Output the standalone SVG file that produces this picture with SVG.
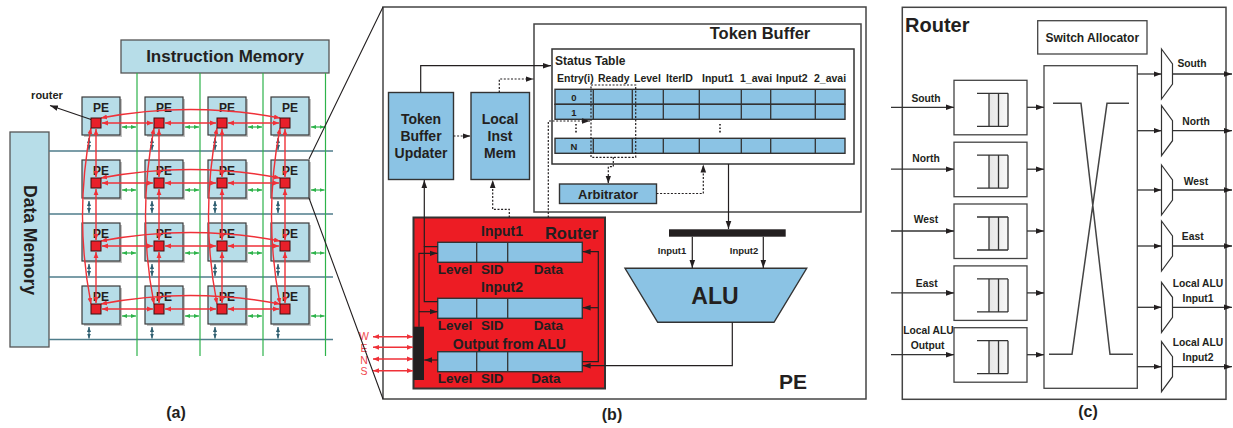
<svg xmlns="http://www.w3.org/2000/svg" width="1233" height="428" viewBox="0 0 1233 428">
<style>
.t{font-family:"Liberation Sans",Arial,sans-serif;font-weight:bold;fill:#231f20}
.m{text-anchor:middle}
.pe{fill:#b7dde8;stroke:#3a3a3a;stroke-width:1.2}
.sh{fill:#7a7a7a;opacity:.45}
.rt{fill:#e8202a;stroke:#3a1010;stroke-width:1}
.red{stroke:#ef3138;stroke-width:1.4;fill:none}
.grn{stroke:#2db34a;stroke-width:1.2;fill:none}
.teal{stroke:#2e5e70;stroke-width:1.2;fill:none}
.bus{stroke:#4f7d8b;stroke-width:1.6}
.gline{stroke:#2db34a;stroke-width:1.2}
.blk{stroke:#231f20;stroke-width:1.2;fill:none}
.dot{stroke:#231f20;stroke-width:1.2;fill:none;stroke-dasharray:2 1.6}
.bl{fill:#8bc3e4;stroke:#333;stroke-width:1.4}
.frame{fill:#fff;stroke:#444;stroke-width:1.5}
.cl{stroke:#333;stroke-width:1.3;fill:none}
.q{fill:url(#qg)}
</style>
<defs>
<marker id="ah" viewBox="0 0 10 10" refX="10" refY="5" markerWidth="8" markerHeight="8" markerUnits="userSpaceOnUse" orient="auto-start-reverse"><path d="M0,1.5 L10,5 L0,8.5 z" fill="#231f20"/></marker>
<marker id="rh" viewBox="0 0 10 10" refX="10" refY="5" markerWidth="6" markerHeight="6" markerUnits="userSpaceOnUse" orient="auto-start-reverse"><path d="M0,1 L10,5 L0,9 z" fill="#ef3138"/></marker>
<marker id="gh" viewBox="0 0 10 10" refX="10" refY="5" markerWidth="5" markerHeight="5" markerUnits="userSpaceOnUse" orient="auto-start-reverse"><path d="M0,1 L10,5 L0,9 z" fill="#2db34a"/></marker>
<marker id="th" viewBox="0 0 10 10" refX="10" refY="5" markerWidth="5" markerHeight="5" markerUnits="userSpaceOnUse" orient="auto-start-reverse"><path d="M0,1 L10,5 L0,9 z" fill="#2e5e70"/></marker>
<linearGradient id="qg" x1="0" y1="0" x2="1" y2="0"><stop offset="0" stop-color="#e6e6e6"/><stop offset="1" stop-color="#f8f8f8"/></linearGradient>
</defs>
<rect width="1233" height="428" fill="#fff"/>

<!-- ================= Panel (a) ================= -->
<g id="instruction-memory">
<rect x="121" y="40" width="208" height="33" fill="#b7dde8" stroke="#555" stroke-width="1.3"/>
<text class="t m" x="225" y="62" font-size="17">Instruction Memory</text>
</g>
<g id="data-memory">
<rect x="10" y="132" width="39" height="215" fill="#b7dde8" stroke="#555" stroke-width="1.3"/>
<text class="t m" transform="translate(24,240) rotate(90)" font-size="17.5">Data Memory</text>
</g>
<g id="buses">
<line class="bus" x1="49" y1="151" x2="333" y2="151"/>
<line class="bus" x1="49" y1="214" x2="333" y2="214"/>
<line class="bus" x1="49" y1="277" x2="333" y2="277"/>
<line class="bus" x1="49" y1="339.5" x2="333" y2="339.5"/>
<line class="gline" x1="137" y1="73" x2="137" y2="356"/>
<line class="gline" x1="200" y1="73" x2="200" y2="356"/>
<line class="gline" x1="263" y1="73" x2="263" y2="356"/>
<line class="gline" x1="325.5" y1="73" x2="325.5" y2="356"/>
</g>
<g id="pe-0-0"><rect class="sh" x="84" y="99" width="38" height="38"/><rect class="pe" x="82" y="97" width="38" height="38"/><text class="t m" x="101" y="112" font-size="12">PE</text></g>
<g id="pe-0-1"><rect class="sh" x="147" y="99" width="38" height="38"/><rect class="pe" x="145" y="97" width="38" height="38"/><text class="t m" x="164" y="112" font-size="12">PE</text></g>
<g id="pe-0-2"><rect class="sh" x="210" y="99" width="38" height="38"/><rect class="pe" x="208" y="97" width="38" height="38"/><text class="t m" x="227" y="112" font-size="12">PE</text></g>
<g id="pe-0-3"><rect class="sh" x="273" y="99" width="38" height="38"/><rect class="pe" x="271" y="97" width="38" height="38"/><text class="t m" x="290" y="112" font-size="12">PE</text></g>
<g id="pe-1-0"><rect class="sh" x="84" y="162" width="38" height="38"/><rect class="pe" x="82" y="160" width="38" height="38"/><text class="t m" x="101" y="175" font-size="12">PE</text></g>
<g id="pe-1-1"><rect class="sh" x="147" y="162" width="38" height="38"/><rect class="pe" x="145" y="160" width="38" height="38"/><text class="t m" x="164" y="175" font-size="12">PE</text></g>
<g id="pe-1-2"><rect class="sh" x="210" y="162" width="38" height="38"/><rect class="pe" x="208" y="160" width="38" height="38"/><text class="t m" x="227" y="175" font-size="12">PE</text></g>
<g id="pe-1-3"><rect class="sh" x="273" y="162" width="38" height="38"/><rect class="pe" x="271" y="160" width="38" height="38"/><text class="t m" x="290" y="175" font-size="12">PE</text></g>
<g id="pe-2-0"><rect class="sh" x="84" y="225" width="38" height="38"/><rect class="pe" x="82" y="223" width="38" height="38"/><text class="t m" x="101" y="238" font-size="12">PE</text></g>
<g id="pe-2-1"><rect class="sh" x="147" y="225" width="38" height="38"/><rect class="pe" x="145" y="223" width="38" height="38"/><text class="t m" x="164" y="238" font-size="12">PE</text></g>
<g id="pe-2-2"><rect class="sh" x="210" y="225" width="38" height="38"/><rect class="pe" x="208" y="223" width="38" height="38"/><text class="t m" x="227" y="238" font-size="12">PE</text></g>
<g id="pe-2-3"><rect class="sh" x="273" y="225" width="38" height="38"/><rect class="pe" x="271" y="223" width="38" height="38"/><text class="t m" x="290" y="238" font-size="12">PE</text></g>
<g id="pe-3-0"><rect class="sh" x="84" y="288" width="38" height="38"/><rect class="pe" x="82" y="286" width="38" height="38"/><text class="t m" x="101" y="301" font-size="12">PE</text></g>
<g id="pe-3-1"><rect class="sh" x="147" y="288" width="38" height="38"/><rect class="pe" x="145" y="286" width="38" height="38"/><text class="t m" x="164" y="301" font-size="12">PE</text></g>
<g id="pe-3-2"><rect class="sh" x="210" y="288" width="38" height="38"/><rect class="pe" x="208" y="286" width="38" height="38"/><text class="t m" x="227" y="301" font-size="12">PE</text></g>
<g id="pe-3-3"><rect class="sh" x="273" y="288" width="38" height="38"/><rect class="pe" x="271" y="286" width="38" height="38"/><text class="t m" x="290" y="301" font-size="12">PE</text></g>
<g id="router-label"><text class="t m" x="47" y="99" font-size="11">router</text></g>

<!-- ================= Panel (b) nodes ================= -->
<g id="pe-detail"><rect class="frame" x="383" y="7" width="483" height="392"/><text class="t m" x="793" y="388.5" font-size="21">PE</text></g>
<g id="token-buffer"><rect class="frame" x="534" y="24" width="327" height="188"/><text class="t m" x="760" y="39" font-size="16.5">Token Buffer</text></g>
<g id="status-table">
<rect x="552" y="49" width="302" height="115" fill="#fff" stroke="#333" stroke-width="1.5"/>
<text class="t" x="555" y="64.5" font-size="12">Status Table</text>
<g font-size="10.5">
<text class="t" x="557" y="82">Entry(i)</text><text class="t" x="598" y="82">Ready</text><text class="t" x="634" y="82">Level</text><text class="t" x="666" y="82">IterID</text><text class="t" x="702" y="82">Input1</text><text class="t" x="740" y="82">1_avai</text><text class="t" x="776" y="82">Input2</text><text class="t" x="814" y="82">2_avai</text>
</g>
<rect class="bl" x="555" y="89.3" width="290" height="15"/>
<rect class="bl" x="555" y="104.3" width="290" height="15"/>
<rect class="bl" x="555" y="138.3" width="290" height="15"/>
<path class="cl" d="M593.3,89.3V119.3M632.3,89.3V119.3M663.3,89.3V119.3M699.3,89.3V119.3M741.3,89.3V119.3M770.7,89.3V119.3M815.3,89.3V119.3M593.3,138.3V153.3M632.3,138.3V153.3M663.3,138.3V153.3M699.3,138.3V153.3M741.3,138.3V153.3M770.7,138.3V153.3M815.3,138.3V153.3"/>
<text class="t m" x="574" y="100.5" font-size="9.5">0</text>
<text class="t m" x="574" y="115.5" font-size="9.5">1</text>
<text class="t m" x="574" y="149.5" font-size="9.5">N</text>
<path d="M576,124V134M720,124V134" stroke="#231f20" stroke-width="1.6" stroke-dasharray="1.6 1.8"/>
<rect class="dot" x="591" y="85" width="44.7" height="72.3"/>
</g>
<g id="arbitrator"><rect class="bl" x="559.5" y="184" width="97" height="19.5"/><text class="t m" x="608" y="198.5" font-size="13">Arbitrator</text></g>
<g id="token-buffer-updater"><rect class="bl" x="388.5" y="92.5" width="65" height="87"/>
<text class="t m" x="421" y="124" font-size="14">Token</text><text class="t m" x="421" y="141" font-size="14">Buffer</text><text class="t m" x="421" y="158" font-size="14">Updater</text></g>
<g id="local-inst-mem"><rect class="bl" x="471" y="92.5" width="58.5" height="87"/>
<text class="t m" x="500" y="124" font-size="14">Local</text><text class="t m" x="500" y="141" font-size="14">Inst</text><text class="t m" x="500" y="158" font-size="14">Mem</text></g>
<g id="router-b">
<rect x="413.5" y="217.5" width="191.5" height="171" fill="#ed1c24" stroke="#333" stroke-width="2"/>
<text class="t m" x="571.5" y="238.5" font-size="16.5">Router</text>
<text class="t m" x="502" y="236" font-size="14">Input1</text>
<rect class="bl" x="437.7" y="242.3" width="144.6" height="20"/>
<path class="cl" d="M476.7,242.3V262.3M507.7,242.3V262.3"/>
<text class="t m" x="455" y="274" font-size="13.5">Level</text><text class="t m" x="492.3" y="274" font-size="13.5">SID</text><text class="t m" x="548.3" y="274" font-size="13.5">Data</text>
<text class="t m" x="502" y="292" font-size="14">Input2</text>
<rect class="bl" x="437.7" y="298.3" width="144.6" height="20"/>
<path class="cl" d="M476.7,298.3V318.3M507.7,298.3V318.3"/>
<text class="t m" x="455" y="330" font-size="13.5">Level</text><text class="t m" x="492.3" y="330" font-size="13.5">SID</text><text class="t m" x="548.3" y="330" font-size="13.5">Data</text>
<text class="t m" x="509.3" y="349" font-size="14">Output from ALU</text>
<rect class="bl" x="437.7" y="351.7" width="144.6" height="20"/>
<path class="cl" d="M476.7,351.7V371.7M507.7,351.7V371.7"/>
<text class="t m" x="455" y="383" font-size="13.5">Level</text><text class="t m" x="492.3" y="383" font-size="13.5">SID</text><text class="t m" x="546" y="383" font-size="13.5">Data</text>
<rect x="413.5" y="326.7" width="10.5" height="53.3" fill="#231f20"/>
</g>
<g id="wens-labels" font-family="Liberation Sans,Arial,sans-serif" font-size="10.5" fill="#f0484e" text-anchor="middle">
<text x="364" y="340">W</text><text x="364" y="352">E</text><text x="364" y="363.5">N</text><text x="364" y="375">S</text>
</g>
<g id="alu">
<rect x="669" y="229.3" width="116.7" height="7.4" fill="#231f20"/>
<polygon class="bl" points="625,268.3 806.7,268.3 774,322.3 657.7,322.3"/>
<text class="t m" x="715" y="303.5" font-size="23">ALU</text>
<text class="t m" x="672" y="254" font-size="9.5">Input1</text>
<text class="t m" x="744" y="254" font-size="9.5">Input2</text>
</g>

<!-- ================= Panel (c) nodes ================= -->
<g id="router-c"><rect class="frame" x="902.3" y="7.3" width="323.7" height="392"/><text class="t" x="905" y="31.7" font-size="20">Router</text></g>
<g id="switch-allocator"><rect x="1037.7" y="20.7" width="109.3" height="33.3" fill="#fff" stroke="#444" stroke-width="1.3"/><text class="t m" x="1092.3" y="41.5" font-size="12">Switch Allocator</text></g>
<g id="crossbar"><rect x="1044" y="65.7" width="93.3" height="322.6" fill="#fff" stroke="#444" stroke-width="1.3"/>
<path d="M1053,103.3H1081L1110,354.3H1133M1129,103.3H1107L1072,354.3H1049" stroke="#444" stroke-width="1.5" fill="none"/></g>
<g id="buf-south"><rect x="954" y="80.3" width="73" height="54.5" fill="#fff" stroke="#444" stroke-width="1.3"/><rect class="q" x="989" y="93.3" width="19" height="33"/><path class="cl" d="M977,93.3H1008M977,126.3H1008M989,93.3V126.3M998.5,93.3V126.3M1008,93.3V126.3"/></g>
<g id="buf-north"><rect x="954" y="142.2" width="73" height="54.5" fill="#fff" stroke="#444" stroke-width="1.3"/><rect class="q" x="989" y="155.2" width="19" height="33"/><path class="cl" d="M977,155.2H1008M977,188.2H1008M989,155.2V188.2M998.5,155.2V188.2M1008,155.2V188.2"/></g>
<g id="buf-west"><rect x="954" y="204" width="73" height="54.5" fill="#fff" stroke="#444" stroke-width="1.3"/><rect class="q" x="989" y="217" width="19" height="33"/><path class="cl" d="M977,217H1008M977,250H1008M989,217V250M998.5,217V250M1008,217V250"/></g>
<g id="buf-east"><rect x="954" y="265.9" width="73" height="54.5" fill="#fff" stroke="#444" stroke-width="1.3"/><rect class="q" x="989" y="278.9" width="19" height="33"/><path class="cl" d="M977,278.9H1008M977,311.9H1008M989,278.9V311.9M998.5,278.9V311.9M1008,278.9V311.9"/></g>
<g id="buf-local"><rect x="954" y="327.7" width="73" height="54.5" fill="#fff" stroke="#444" stroke-width="1.3"/><rect class="q" x="989" y="340.7" width="19" height="33"/><path class="cl" d="M977,340.7H1008M977,373.7H1008M989,340.7V373.7M998.5,340.7V373.7M1008,340.7V373.7"/></g>
<g id="mux-south"><polygon points="1161.5,49 1172.5,64 1172.5,84 1161.5,99" fill="#fff" stroke="#333" stroke-width="1.2"/></g>
<g id="mux-north"><polygon points="1161.5,105.7 1172.5,120.7 1172.5,140.7 1161.5,155.7" fill="#fff" stroke="#333" stroke-width="1.2"/></g>
<g id="mux-west"><polygon points="1161.5,165 1172.5,180 1172.5,200 1161.5,215" fill="#fff" stroke="#333" stroke-width="1.2"/></g>
<g id="mux-east"><polygon points="1161.5,221 1172.5,236 1172.5,256 1161.5,271" fill="#fff" stroke="#333" stroke-width="1.2"/></g>
<g id="mux-in1"><polygon points="1161.5,282.3 1172.5,297.3 1172.5,317.3 1161.5,332.3" fill="#fff" stroke="#333" stroke-width="1.2"/></g>
<g id="mux-in2"><polygon points="1161.5,341.7 1172.5,356.7 1172.5,376.7 1161.5,391.7" fill="#fff" stroke="#333" stroke-width="1.2"/></g>
<g id="labels-c" font-size="10.3">
<text class="t m" x="926" y="101.7">South</text>
<text class="t m" x="926" y="161.7">North</text>
<text class="t m" x="926" y="223.3">West</text>
<text class="t m" x="926.7" y="286.7">East</text>
<text class="t m" x="928.5" y="334.3">Local ALU</text>
<text class="t m" x="927.7" y="349.3">Output</text>
<text class="t m" x="1192" y="66.7">South</text>
<text class="t m" x="1196" y="125">North</text>
<text class="t m" x="1196" y="185">West</text>
<text class="t m" x="1192.7" y="240">East</text>
<text class="t m" x="1198" y="286.7">Local ALU</text>
<text class="t m" x="1198" y="301.7">Input1</text>
<text class="t m" x="1198" y="346">Local ALU</text>
<text class="t m" x="1198" y="360.7">Input2</text>
</g>
<g id="captions" font-size="16">
<text class="t m" x="176" y="418">(a)</text>
<text class="t m" x="612" y="420">(b)</text>
<text class="t m" x="1088" y="417">(c)</text>
</g>

<!-- ================= Connectors ================= -->
<g id="connectors">
<g class="grn" marker-start="url(#gh)" marker-end="url(#gh)">
<line x1="122" y1="127" x2="136" y2="127"/><line x1="185" y1="127" x2="199" y2="127"/><line x1="248" y1="127" x2="262" y2="127"/><line x1="311" y1="127" x2="324.5" y2="127"/>
<line x1="122" y1="190" x2="136" y2="190"/><line x1="185" y1="190" x2="199" y2="190"/><line x1="248" y1="190" x2="262" y2="190"/><line x1="311" y1="190" x2="324.5" y2="190"/>
<line x1="122" y1="253" x2="136" y2="253"/><line x1="185" y1="253" x2="199" y2="253"/><line x1="248" y1="253" x2="262" y2="253"/><line x1="311" y1="253" x2="324.5" y2="253"/>
<line x1="122" y1="316" x2="136" y2="316"/><line x1="185" y1="316" x2="199" y2="316"/><line x1="248" y1="316" x2="262" y2="316"/><line x1="311" y1="316" x2="324.5" y2="316"/>
</g>
<g class="teal" marker-start="url(#th)" marker-end="url(#th)">
<line x1="89" y1="138" x2="89" y2="150"/><line x1="152" y1="138" x2="152" y2="150"/><line x1="215" y1="138" x2="215" y2="150"/><line x1="278" y1="138" x2="278" y2="150"/>
<line x1="89" y1="201" x2="89" y2="213"/><line x1="152" y1="201" x2="152" y2="213"/><line x1="215" y1="201" x2="215" y2="213"/><line x1="278" y1="201" x2="278" y2="213"/>
<line x1="89" y1="264" x2="89" y2="276"/><line x1="152" y1="264" x2="152" y2="276"/><line x1="215" y1="264" x2="215" y2="276"/><line x1="278" y1="264" x2="278" y2="276"/>
<line x1="89" y1="327" x2="89" y2="338.5"/><line x1="152" y1="327" x2="152" y2="338.5"/><line x1="215" y1="327" x2="215" y2="338.5"/><line x1="278" y1="327" x2="278" y2="338.5"/>
</g>
<g class="red" marker-start="url(#rh)" marker-end="url(#rh)">
<line x1="102" y1="123" x2="153" y2="123"/><line x1="165" y1="123" x2="216" y2="123"/><line x1="228" y1="123" x2="279" y2="123"/>
<line x1="102" y1="183" x2="153" y2="183"/><line x1="165" y1="183" x2="216" y2="183"/><line x1="228" y1="183" x2="279" y2="183"/>
<line x1="102" y1="246" x2="153" y2="246"/><line x1="165" y1="246" x2="216" y2="246"/><line x1="228" y1="246" x2="279" y2="246"/>
<line x1="102" y1="309" x2="153" y2="309"/><line x1="165" y1="309" x2="216" y2="309"/><line x1="228" y1="309" x2="279" y2="309"/>
<line x1="96" y1="129" x2="96" y2="177"/><line x1="96" y1="189" x2="96" y2="240"/><line x1="96" y1="252" x2="96" y2="303"/>
<line x1="159" y1="129" x2="159" y2="177"/><line x1="159" y1="189" x2="159" y2="240"/><line x1="159" y1="252" x2="159" y2="303"/>
<line x1="222" y1="129" x2="222" y2="177"/><line x1="222" y1="189" x2="222" y2="240"/><line x1="222" y1="252" x2="222" y2="303"/>
<line x1="285" y1="129" x2="285" y2="177"/><line x1="285" y1="189" x2="285" y2="240"/><line x1="285" y1="252" x2="285" y2="303"/>
<path d="M101,118 Q190.5,101 280,118"/><path d="M101,178 Q190.5,161 280,178"/><path d="M101,241 Q190.5,224 280,241"/><path d="M101,304 Q190.5,287 280,304"/>
<path d="M91,128 Q74,216 91,304"/><path d="M154,128 Q137,216 154,304"/><path d="M217,128 Q200,216 217,304"/><path d="M280,128 Q263,216 280,304"/>
</g>
<line class="blk" x1="94" y1="120.5" x2="50" y2="105.5" marker-end="url(#ah)"/>
<path d="M309,159L383,7M309,198L383,399" stroke="#231f20" stroke-width="1.1" fill="none"/>
<path class="blk" d="M420.7,92.5V65.7H551" marker-end="url(#ah)"/>
<path class="dot" d="M453.5,136H470.5" marker-end="url(#ah)"/>
<path class="dot" d="M499.3,92.5V79H533.5" marker-end="url(#ah)"/>
<path class="dot" d="M613.3,157.3V166.7H608.3V183.5" marker-end="url(#ah)"/>
<path class="dot" d="M656.5,193.5H703.3V164.5" marker-end="url(#ah)"/>
<path class="dot" d="M548.3,217.5V121H590" marker-end="url(#ah)"/>
<path class="dot" d="M509.3,217.5V209.3H492.7V180" marker-end="url(#ah)"/>
<path class="blk" d="M437.7,246.7H424.3V301.7H437.7"/>
<path class="blk" d="M424.3,246.7V180" marker-end="url(#ah)"/>
<path class="blk" d="M419,326.7V253.3H437.5" marker-end="url(#ah)"/>
<path class="blk" d="M419,311.7H437.5" marker-end="url(#ah)"/>
<path class="blk" d="M437.7,360H424.2" marker-end="url(#ah)"/>
<path class="blk" d="M582.3,361.7H598.3V251.7H582.6" marker-end="url(#ah)"/>
<path class="blk" d="M598.3,307.7H582.6" marker-end="url(#ah)"/>
<path class="blk" d="M732.3,322.3V365.7H582.6" marker-end="url(#ah)"/>
<path class="blk" d="M728.5,164V229" marker-end="url(#ah)"/>
<path class="blk" d="M692.3,236.7V268" marker-end="url(#ah)"/>
<path class="blk" d="M763.3,236.7V268" marker-end="url(#ah)"/>
<g stroke="#ef3138" stroke-width="1.4" marker-start="url(#rh)" marker-end="url(#rh)">
<line x1="373" y1="336.7" x2="413" y2="336.7"/><line x1="373" y1="347.3" x2="413" y2="347.3"/><line x1="373" y1="359" x2="413" y2="359"/><line x1="373" y1="370.7" x2="413" y2="370.7"/>
</g>
<g class="cl" marker-end="url(#ah)">
<line x1="891" y1="107.3" x2="954" y2="107.3"/><line x1="891" y1="169.2" x2="954" y2="169.2"/><line x1="891" y1="231" x2="954" y2="231"/><line x1="891" y1="292.9" x2="954" y2="292.9"/><line x1="891" y1="354.7" x2="954" y2="354.7"/>
<line x1="1027" y1="107.3" x2="1044" y2="107.3"/><line x1="1027" y1="169.2" x2="1044" y2="169.2"/><line x1="1027" y1="231" x2="1044" y2="231"/><line x1="1027" y1="292.9" x2="1044" y2="292.9"/><line x1="1027" y1="354.7" x2="1044" y2="354.7"/>
<line x1="1137.3" y1="74" x2="1161.5" y2="74"/><line x1="1137.3" y1="130.7" x2="1161.5" y2="130.7"/><line x1="1137.3" y1="190" x2="1161.5" y2="190"/><line x1="1137.3" y1="246" x2="1161.5" y2="246"/><line x1="1137.3" y1="307.3" x2="1161.5" y2="307.3"/><line x1="1137.3" y1="366.7" x2="1161.5" y2="366.7"/>
<line x1="1172.5" y1="74" x2="1232" y2="74"/><line x1="1172.5" y1="130.7" x2="1232" y2="130.7"/><line x1="1172.5" y1="190" x2="1232" y2="190"/><line x1="1172.5" y1="246" x2="1232" y2="246"/><line x1="1172.5" y1="307.3" x2="1232" y2="307.3"/><line x1="1172.5" y1="366.7" x2="1232" y2="366.7"/>
</g>
</g>

<g id="routers-a">
<rect class="rt" x="91" y="118" width="10" height="10"/><rect class="rt" x="154" y="118" width="10" height="10"/><rect class="rt" x="217" y="118" width="10" height="10"/><rect class="rt" x="280" y="118" width="10" height="10"/>
<rect class="rt" x="91" y="178" width="10" height="10"/><rect class="rt" x="154" y="178" width="10" height="10"/><rect class="rt" x="217" y="178" width="10" height="10"/><rect class="rt" x="280" y="178" width="10" height="10"/>
<rect class="rt" x="91" y="241" width="10" height="10"/><rect class="rt" x="154" y="241" width="10" height="10"/><rect class="rt" x="217" y="241" width="10" height="10"/><rect class="rt" x="280" y="241" width="10" height="10"/>
<rect class="rt" x="91" y="304" width="10" height="10"/><rect class="rt" x="154" y="304" width="10" height="10"/><rect class="rt" x="217" y="304" width="10" height="10"/><rect class="rt" x="280" y="304" width="10" height="10"/>
</g>
</svg>
